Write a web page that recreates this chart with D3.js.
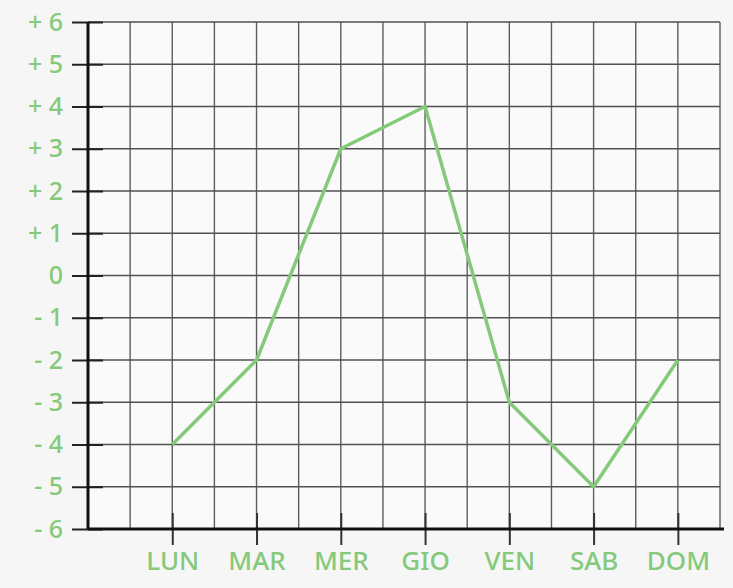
<!DOCTYPE html>
<html>
<head>
<meta charset="utf-8">
<script src="https://cdn.jsdelivr.net/npm/d3@7"></script>
<style>
  html, body { margin: 0; padding: 0; background: #f6f6f6; }
  svg { display: block; }
</style>
</head>
<body>
<div id="chart"></div>
<script>
// Days of the week and temperature values
const days = ["LUN", "MAR", "MER", "GIO", "VEN", "SAB", "DOM"];
const values = [-4, -2, 3, 4, -3, -5, -2];
const yTicks = [6, 5, 4, 3, 2, 1, 0, -1, -2, -3, -4, -5, -6];

const W = 733, H = 588;
const green = "#85c97a";

const svg = d3.select("#chart").append("svg")
    .attr("width", W)
    .attr("height", H);

svg.append("rect").attr("width", W).attr("height", H).attr("fill", "#f6f6f6");

// Grid scale: 15 squares across, 12 squares down
const xGrid = d3.scaleLinear().domain([0, 15]).range([88, 720]);
const y = d3.scaleLinear().domain([-6, 6]).range([529, 22]);
const x = d3.scalePoint().domain(days).range([xGrid(2), xGrid(14)]);

// Graph paper background
svg.append("rect")
    .attr("x", xGrid(0)).attr("y", y(6))
    .attr("width", xGrid(15) - xGrid(0)).attr("height", y(-6) - y(6))
    .attr("fill", "#fafafa");

// Grid lines
svg.append("g")
    .selectAll("line")
    .data(d3.range(1, 16))
    .join("line")
    .attr("x1", d => xGrid(d)).attr("x2", d => xGrid(d))
    .attr("y1", y(6)).attr("y2", y(-6))
    .attr("stroke", "#5e5e5e")
    .attr("stroke-width", 1.4);

svg.append("g")
    .selectAll("line")
    .data(yTicks)
    .join("line")
    .attr("x1", xGrid(0)).attr("x2", xGrid(15))
    .attr("y1", d => y(d)).attr("y2", d => y(d))
    .attr("stroke", "#505050")
    .attr("stroke-width", 1.4);

// Y axis
const fmt = d => d > 0 ? "+ " + d : d < 0 ? "- " + Math.abs(d) : "0";
const yAxis = svg.append("g")
    .attr("transform", `translate(${xGrid(0)},0)`)
    .call(d3.axisLeft(y).tickValues(yTicks).tickFormat(fmt).tickSize(16).tickPadding(9));
yAxis.select(".domain").remove();
yAxis.selectAll(".tick line")
    .attr("x2", -16).attr("x1", 15)
    .attr("stroke", "#222").attr("stroke-width", 2);
yAxis.selectAll(".tick text")
    .attr("fill", green)
    .attr("font-family", "'Noto Sans', sans-serif")
    .attr("font-size", 25)
    .attr("font-weight", 500);
yAxis.append("line")
    .attr("x1", 0).attr("x2", 0)
    .attr("y1", y(6)).attr("y2", y(-6))
    .attr("stroke", "#111").attr("stroke-width", 3);

// X axis
const xAxis = svg.append("g")
    .attr("transform", `translate(0,${y(-6)})`)
    .call(d3.axisBottom(x).tickSize(16).tickPadding(7));
xAxis.select(".domain").remove();
xAxis.selectAll(".tick line")
    .attr("y1", -16).attr("y2", 16)
    .attr("stroke", "#333").attr("stroke-width", 2);
xAxis.selectAll(".tick text")
    .attr("fill", green)
    .attr("font-family", "'Noto Sans', sans-serif")
    .attr("font-size", 26)
    .attr("font-weight", 500);
xAxis.append("line")
    .attr("x1", xGrid(0)).attr("x2", xGrid(15) + 4)
    .attr("y1", 0).attr("y2", 0)
    .attr("stroke", "#111").attr("stroke-width", 3);

// Temperature line
const line = d3.line()
    .x((d, i) => x(days[i]))
    .y(d => y(d));

svg.append("path")
    .datum(values)
    .attr("d", line)
    .attr("fill", "none")
    .attr("stroke", green)
    .attr("stroke-width", 3.5)
    .attr("stroke-linejoin", "round");
</script>
</body>
</html>
